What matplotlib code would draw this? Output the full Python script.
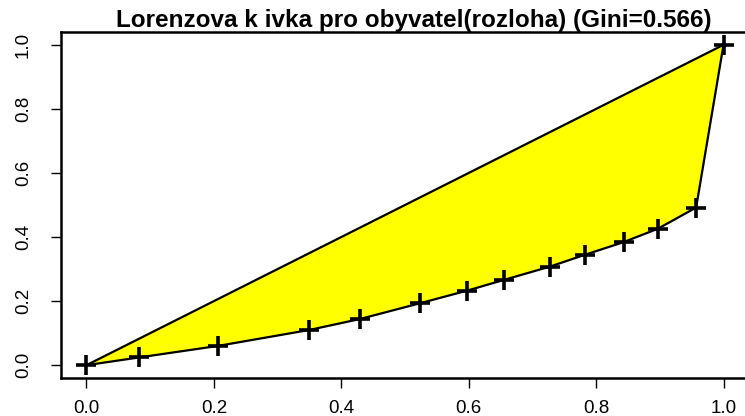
import matplotlib
matplotlib.use("Agg")
import matplotlib.pyplot as plt

# Lorenz curve data (cumulative share of area vs. cumulative share of population)
cum_x = [0.0, 0.082, 0.206, 0.350, 0.429, 0.523, 0.598, 0.655, 0.728, 0.783, 0.843, 0.897, 0.957, 1.0]
cum_y = [0.0, 0.024, 0.060, 0.110, 0.144, 0.193, 0.233, 0.266, 0.308, 0.345, 0.384, 0.426, 0.492, 1.0]
title = "Lorenzova k ivka pro obyvatel(rozloha) (Gini=0.566)"
ticks = [0.0, 0.2, 0.4, 0.6, 0.8, 1.0]
tick_labels = ["0.0", "0.2", "0.4", "0.6", "0.8", "1.0"]

plt.rcParams['font.family'] = ['Liberation Sans', 'DejaVu Sans']

W, H = 745, 416
fig = plt.figure(figsize=(W / 100, H / 100), dpi=100)
left, right, top, bottom = 61, 749, 32, 378
ax = fig.add_axes([left / W, 1 - bottom / H, (right - left) / W, (bottom - top) / H])

# polygon: Lorenz curve then back along diagonal
poly_x = cum_x + [0.0]
poly_y = cum_y + [0.0]
ax.fill(poly_x, poly_y, color='#FFFF00', zorder=1)
ax.plot(cum_x, cum_y, color='black', lw=1.6, zorder=2)
ax.plot([0, 1], [0, 1], color='black', lw=1.6, zorder=2)
ax.plot(cum_x, cum_y, linestyle='none', marker='+', markersize=14,
        markeredgewidth=2.6, color='black', zorder=3)

ax.set_xlim(-0.04, 1.04)
ax.set_ylim(-0.04, 1.04)
ax.set_xticks(ticks)
ax.set_xticklabels(tick_labels)
ax.set_yticks(ticks)
ax.set_yticklabels(tick_labels, rotation=90, va='center')
ax.tick_params(axis='both', direction='out', length=7, width=1, labelsize=13.5, colors='black')
ax.tick_params(axis='x', pad=9)
ax.tick_params(axis='y', pad=14)
for s in ax.spines.values():
    s.set_linewidth(1.8)
    s.set_color('black')

ax.set_title(title, fontsize=17.5, fontweight='bold', pad=1, x=0.513)

fig.savefig("out.png", dpi=100)
